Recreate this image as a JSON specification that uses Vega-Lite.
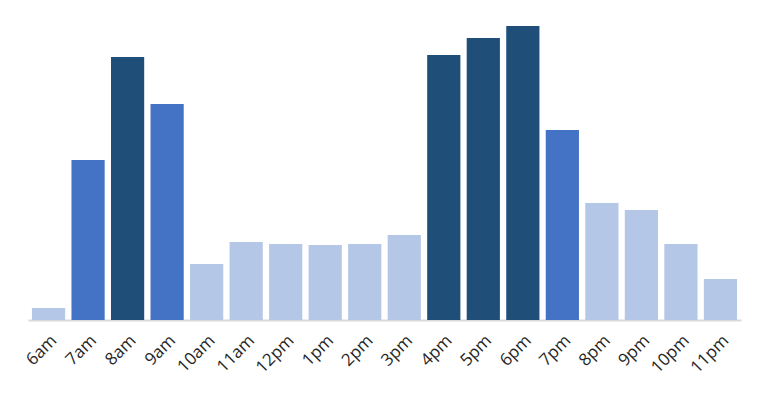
{
  "$schema": "https://vega.github.io/schema/vega-lite/v6.json",
  "width": 713,
  "height": 320,
  "autosize": {"type": "none"},
  "padding": {"left": 28, "top": 0, "right": 24, "bottom": 75},
  "background": "white",
  "config": {"view": {"stroke": null}},
  "data": {"values": [
    {"hour": "6am", "value": 12, "level": "low"},
    {"hour": "7am", "value": 160, "level": "mid"},
    {"hour": "8am", "value": 263, "level": "high"},
    {"hour": "9am", "value": 216, "level": "mid"},
    {"hour": "10am", "value": 56, "level": "low"},
    {"hour": "11am", "value": 78, "level": "low"},
    {"hour": "12pm", "value": 76, "level": "low"},
    {"hour": "1pm", "value": 75, "level": "low"},
    {"hour": "2pm", "value": 76, "level": "low"},
    {"hour": "3pm", "value": 85, "level": "low"},
    {"hour": "4pm", "value": 265, "level": "high"},
    {"hour": "5pm", "value": 282, "level": "high"},
    {"hour": "6pm", "value": 294, "level": "high"},
    {"hour": "7pm", "value": 190, "level": "mid"},
    {"hour": "8pm", "value": 117, "level": "low"},
    {"hour": "9pm", "value": 110, "level": "low"},
    {"hour": "10pm", "value": 76, "level": "low"},
    {"hour": "11pm", "value": 41, "level": "low"}
  ]},
  "mark": {"type": "bar"},
  "encoding": {
    "x": {
      "field": "hour", "type": "nominal", "sort": null,
      "scale": {"paddingInner": 0.16, "paddingOuter": 0.1},
      "axis": {
        "title": null, "labelAngle": -45, "labelFontSize": 17, "labelFont": "Open Sans",
        "labelColor": "#262626", "ticks": false, "domainColor": "#d9d9d9", "domainWidth": 2,
        "labelPadding": 12
      }
    },
    "y": {
      "field": "value", "type": "quantitative",
      "scale": {"domain": [0, 320], "nice": false},
      "axis": null
    },
    "color": {
      "field": "level", "type": "nominal", "legend": null,
      "scale": {"domain": ["low", "mid", "high"], "range": ["#b4c7e7", "#4472c4", "#1f4e79"]}
    }
  }
}
